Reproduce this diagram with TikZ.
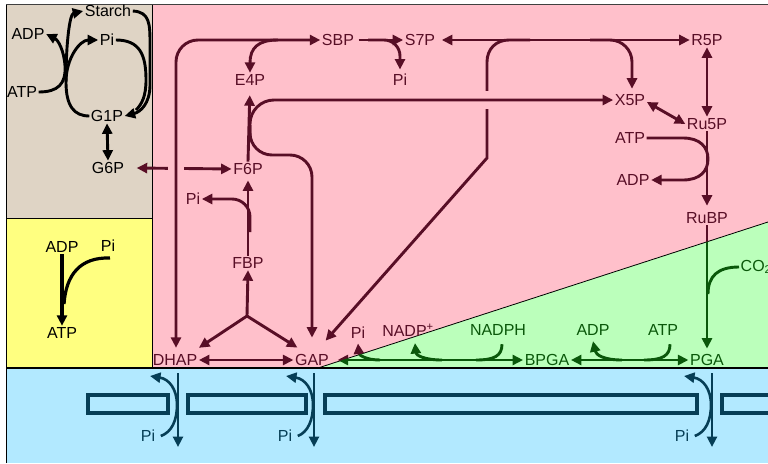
\documentclass[tikz,border=0pt]{standalone}
\usepackage{fontspec}
\setmainfont{Liberation Sans}
\usetikzlibrary{arrows.meta}

\definecolor{starchbg}{RGB}{223,212,197}
\definecolor{cytobg}{RGB}{255,255,128}
\definecolor{stromabg}{RGB}{255,192,203}
\definecolor{lightbg}{RGB}{187,255,187}
\definecolor{cytosolbg}{RGB}{178,233,255}
\definecolor{wine}{RGB}{88,14,38}
\definecolor{leaf}{RGB}{10,88,10}
\definecolor{deepsea}{RGB}{6,62,86}

% reduction phase, drawn once per zone colour
\newcommand{\reductionlines}[1]{%
  \draw[rxn,#1,<->] ([xshift=7pt]gap.east) -- (bpga.west);
  \draw[rxn,#1,->] (380,360) .. controls (366,360) and (359,355) .. ([yshift=-3pt]pie.south);
  \draw[rxn,#1,->] (442,360) .. controls (424,360) and (416,355) .. ([shift={(7,5)}]nadp.south);
  \draw[rxn,#1] ([shift={(4,7)}]nadph.south) .. controls (502,356) and (494,360) .. (476,360);
  \draw[rxn,#1,<->] (bpga.east) -- (pga.west);
  \draw[rxn,#1,->] (622,360) .. controls (604,360) and (596,355) .. ([yshift=-4pt]adpd.south);
  \draw[rxn,#1] ([shift={(7,7)}]atpd.south) .. controls (670,356) and (662,360) .. (644,360);
  \draw[rxn,#1,->,shorten >=4pt] (rubp.south) -- (pga.north);
  \draw[rxn,#1] (co2.west) .. controls (718,267) and (708,276) .. (708,294);
}

\begin{document}
\begin{tikzpicture}[x=1pt,y=-1pt,
  >={Triangle[length=10.5pt,width=10pt]},
  lbl/.style={inner sep=1.5pt,font=\fontsize{16}{17}\selectfont},
  rxn/.style={line width=2.9pt,wine},
  dark/.style={line width=2.9pt,black},
  carrier/.style={line width=2.6pt,deepsea},
  hop/.style={stromabg,line width=9pt}]
\useasboundingbox (0,0) rectangle (768,463);

% compartments
\fill[starchbg] (6,5) rectangle (152,218);
\fill[cytobg] (6,218) rectangle (152,368);
\fill[stromabg] (152,5) rectangle (768,368);
\fill[lightbg] (318,368) -- (768,222) -- (768,368) -- cycle;
\fill[cytosolbg] (6,368) rectangle (768,463);
\draw[line width=0.8pt] (318,368) -- (768,222);
\draw[line width=0.8pt] (6,218) -- (152,218);
\draw[line width=0.8pt] (152,5) -- (152,368);
\draw[line width=1.6pt] (6,368) -- (768,368);
\draw[line width=0.9pt] (6,463) -- (6,4.5);
\draw[line width=0.9pt,gray!50!black] (6,4.5) -- (768,4.5);

% starch corner
\node[lbl] (starch) at (108,11) {Starch};
\node[lbl] (pia) at (107,40) {Pi};
\node[lbl] (adpa) at (28,34) {ADP};
\node[lbl] (atpa) at (22,92) {ATP};
\node[lbl] (g1p) at (107,116) {G1P};
\node[lbl] (g6p) at (108,168) {G6P};

% cytosol energy
\node[lbl] (adpb) at (62,247) {ADP};
\node[lbl] (pib) at (108,246) {Pi};
\node[lbl] (atpb) at (62,333) {ATP};

% stroma
\node[lbl,wine] (e4p) at (250,80) {E4P};
\node[lbl,wine] (sbp) at (338,40) {SBP};
\node[lbl,wine] (s7p) at (420,40) {S7P};
\node[lbl,wine] (pic) at (400,80) {Pi};
\node[lbl,wine] (r5p) at (707,40) {R5P};
\node[lbl,wine] (x5p) at (630,100) {X5P};
\node[lbl,wine] (ru5p) at (707,124) {Ru5P};
\node[lbl,wine] (atpc) at (630,138) {ATP};
\node[lbl,wine] (adpc) at (633,180) {ADP};
\node[lbl,wine] (rubp) at (707,218) {RuBP};
\node[lbl,wine] (f6p) at (248,169) {F6P};
\node[lbl,wine] (pid) at (193,199) {Pi};
\node[lbl,wine] (fbp) at (248,263) {FBP};
\node[lbl,wine] (dhap) at (175,360) {DHAP};
\node[lbl,wine] (gap) at (312,360) {GAP};
\node[lbl,wine] (pie) at (358,333) {Pi};
\node[lbl,wine] (nadp) at (408,330) {NADP\textsuperscript{+}};

% light side
\node[lbl,leaf] (nadph) at (498,330) {NADPH};
\node[lbl,leaf] (bpga) at (547,360) {BPGA};
\node[lbl,leaf] (adpd) at (593,330) {ADP};
\node[lbl,leaf] (atpd) at (663,330) {ATP};
\node[lbl,leaf] (pga) at (707,360) {PGA};
\node[lbl,leaf,anchor=west] (co2) at (739,267) {CO\textsubscript{2}};

% cytosol Pi
\node[lbl,deepsea] (pif) at (148,436) {Pi};
\node[lbl,deepsea] (pig) at (285,436) {Pi};
\node[lbl,deepsea] (pih) at (682,436) {Pi};

% starch synthesis and breakdown
\coordinate (split) at (66,82);
\draw[dark,->] (atpa.east) .. controls (58,92) and (66,84) .. (65,66) .. controls (64,50) and (58,40) .. (adpa.east);
\draw[dark,->] (g1p.west) .. controls (74,116) and (66,106) .. (split) .. controls (66,40) and (70,14) .. (starch.west);
\draw[dark,->] (split) .. controls (66,58) and (80,40) .. (pia.west);
\draw[dark,->] (starch.east) .. controls (150,12) and (150,24) .. (150,45) -- (150,85) .. controls (150,104) and (140,112) .. (g1p.east);
\draw[dark] (pia.east) .. controls (140,40) and (146,55) .. (146,80) .. controls (146,96) and (142,104) .. (136,110);
\draw[dark,<->] (g1p.south) -- (g6p.north);

% ADP + Pi -> ATP
\coordinate (pib1) at (110,258);
\draw[dark,->,line width=3.2pt] (adpb.south) -- (atpb.north);
\draw[dark,line width=3.2pt] (pib1) .. controls (80,257) and (66,275) .. (64,304);

% G6P <-> F6P, hopped by the DHAP line
\draw[rxn,<->] ([xshift=11pt]g6p.east) -- (f6p.west);
\draw[hop] (168,168) -- (184,168);
\draw[rxn,<->,rounded corners=22pt] (sbp.west) -- (176,40) -- ([shift={(1,-5)}]dhap.north);
\draw[rxn,->] (278,40) .. controls (258,40) and (250,48) .. (e4p.north);
\draw[rxn,->,shorten >=8pt] (f6p.north) -- (e4p.south);

% S7P + GAP -> R5P + X5P
\draw[rxn,<->] ([xshift=5pt]s7p.east) -- (r5p.west);
\draw[rxn,->] (530,40) -- (509,40) .. controls (496,40) and (487,49) .. (487,62) -- (487,158) -- ([shift={(-5,-12)}]gap.north east);
\draw[rxn,->,rounded corners=22pt] (590,40) -- (632,40) -- ([shift={(2,-4)}]x5p.north);

% F6P + GAP -> E4P + X5P
\draw[hop] (487,91) -- (487,109);
\draw[rxn,->,rounded corners=24pt] (250,140) -- (250,100) -- (x5p.west);
\draw[rxn,->,rounded corners=22pt] (250,125) -- (250,155) -- (312,155) -- ([yshift=15pt]gap.north);

% FBP -> F6P + Pi
\draw[rxn,->,shorten >=4pt] (fbp.north) -- (f6p.south);
\draw[rxn,->,rounded corners=18pt] (250,232) -- (250,199) -- (pid.east);

% aldolase
\coordinate (hub) at (247,316);
\draw[rxn,->] (hub) -- (fbp.south);
\draw[rxn,->] (hub) -- ([yshift=5pt]dhap.north east);
\draw[rxn,->] (hub) -- ([shift={(4,-5)}]gap.north west);
\draw[rxn,<->] (dhap.east) -- (gap.west);

% SBP -> S7P + Pi
\draw[rxn,->] ([xshift=3pt]sbp.east) -- (s7p.west);
\draw[rxn,->,rounded corners=16pt] (368,40) -- (400,40) -- ([yshift=3pt]pic.north);

% pentose phosphates
\draw[rxn,<->] (r5p.south) -- (ru5p.north);
\draw[rxn,<->] ([yshift=-2pt]x5p.east) -- (ru5p.west);
\draw[rxn,->,shorten >=5pt] (ru5p.south) -- (rubp.north);
\draw[rxn,->] (atpc.east) -- (683,138) .. controls (700,138) and (708,147) .. (708,159) .. controls (708,171) and (700,180) .. (683,180) -- (adpc.east);

\begin{scope}
  \clip (152,5) -- (768,5) -- (768,222) -- (318,368) -- (152,368) -- cycle;
  \reductionlines{wine}
\end{scope}
\begin{scope}
  \clip (318,368) -- (768,222) -- (768,368) -- cycle;
  \reductionlines{leaf}
\end{scope}

% envelope and phosphate translocators
\draw[line width=3.2pt,deepsea] (88,395) rectangle (168,413);
\draw[line width=3.2pt,deepsea] (188,395) rectangle (306,413);
\draw[line width=3.2pt,deepsea] (325,395) rectangle (697,413);
\draw[line width=3.2pt,deepsea] (722,395) rectangle (800,413);

\coordinate (tin1) at (178,373); \coordinate (tout1) at (178,447); \coordinate (pout1) at (150,376);
\coordinate (tin2) at (314,373); \coordinate (tout2) at (314,447); \coordinate (pout2) at (286,376);
\coordinate (tin3) at (712,373); \coordinate (tout3) at (712,447); \coordinate (pout3) at (684,376);
\draw[carrier,->] (tin1) -- (tout1);
\draw[carrier,->] ([xshift=4pt]pif.east) .. controls (172,432) and (177,420) .. (177,405) .. controls (177,389) and (169,379) .. (pout1);
\draw[carrier,->] (tin2) -- (tout2);
\draw[carrier,->] ([xshift=4pt]pig.east) .. controls (308,432) and (313,420) .. (313,405) .. controls (313,389) and (305,379) .. (pout2);
\draw[carrier,->] (tin3) -- (tout3);
\draw[carrier,->] ([xshift=4pt]pih.east) .. controls (706,432) and (711,420) .. (711,405) .. controls (711,389) and (703,379) .. (pout3);
\end{tikzpicture}
\end{document}
